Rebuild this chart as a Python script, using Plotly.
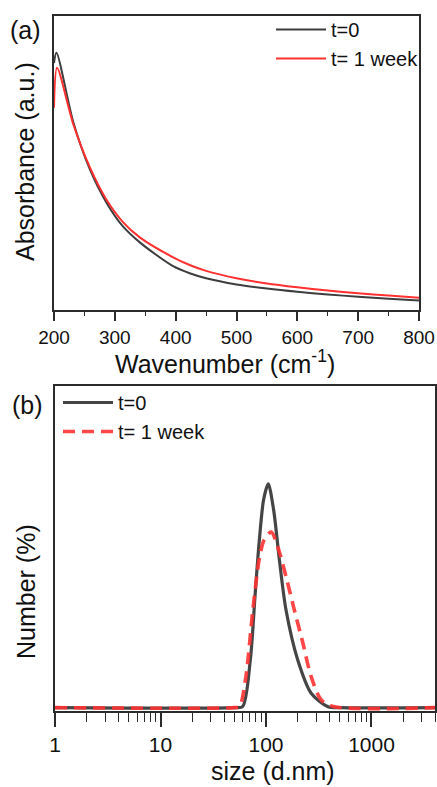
import plotly.graph_objects as go

# ---- Panel (a): absorbance ----
wn_t0 = [200, 204, 232, 259, 286, 313, 341, 395, 423, 450, 500, 550, 600, 650, 700, 750, 800]
abs_t0 = [0.84, 0.875, 0.637, 0.478, 0.366, 0.285, 0.23, 0.15, 0.125, 0.108, 0.087, 0.073,
          0.062, 0.053, 0.045, 0.038, 0.032]
wn_1w = [200, 205, 232, 259, 286, 313, 341, 395, 423, 450, 500, 550, 600, 650, 700, 750, 800]
abs_1w = [0.688, 0.824, 0.63, 0.485, 0.376, 0.30, 0.247, 0.18, 0.153, 0.133, 0.108, 0.09,
          0.077, 0.066, 0.057, 0.049, 0.042]

# ---- Panel (b): DLS number distribution ----
size_t0 = [1, 50, 60, 71, 79, 86, 95, 105, 118, 134, 155, 200, 268, 387, 518, 4000]
num_t0 = [0, 0, 0.09, 4.26, 10.2, 14.7, 18.6, 20.0, 17.7, 13.2, 8.7, 4.26, 1.29, 0.09, 0, 0]
size_1w = [1, 50, 56, 64.5, 75, 86, 96, 112, 129, 155, 186, 224, 268, 334, 444, 4000]
num_1w = [0, 0, 0.09, 2.77, 8.7, 13.2, 15.0, 15.7, 14.4, 11.7, 8.7, 5.75, 2.77, 0.69, 0.09, 0]

x_ticks_a = [200, 300, 400, 500, 600, 700, 800]
x_ticks_b = [1, 10, 100, 1000]
x_ticktext_b = ["1", "10", "100", "1000"]
x_minor_b = [2, 3, 4, 5, 6, 7, 8, 9, 20, 30, 40, 50, 60, 70, 80, 90,
             200, 300, 400, 500, 600, 700, 800, 900, 2000, 3000, 4000]

BLACK = "#3d3d3d"
RED = "#ff3030"
AX = "#2b2b2b"
FONT = "Liberation Sans, Arial, sans-serif"

fig = go.Figure()
fig.add_trace(go.Scatter(x=wn_t0, y=abs_t0, mode="lines", name="t=0",
                         line=dict(color=BLACK, width=2, shape="spline", smoothing=0.8),
                         xaxis="x", yaxis="y", legend="legend"))
fig.add_trace(go.Scatter(x=wn_1w, y=abs_1w, mode="lines", name="t= 1 week",
                         line=dict(color=RED, width=2, shape="spline", smoothing=0.8),
                         xaxis="x", yaxis="y", legend="legend"))
fig.add_trace(go.Scatter(x=size_t0, y=num_t0, mode="lines", name="t=0",
                         line=dict(color="#454545", width=3.2, shape="spline", smoothing=0.8),
                         xaxis="x2", yaxis="y2", legend="legend2"))
fig.add_trace(go.Scatter(x=size_1w, y=num_1w, mode="lines", name="t= 1 week",
                         line=dict(color="rgba(255,50,50,0.9)", width=3.6, dash="12px,7px",
                                   shape="spline", smoothing=0.8),
                         xaxis="x2", yaxis="y2", legend="legend2"))

W, H = 437, 787
def xd(a, b):
    return [a / W, b / W]
def yd(top, bottom):
    return [1 - bottom / H, 1 - top / H]

axis_common = dict(showline=True, linecolor=AX, linewidth=1.6, mirror=True,
                   showgrid=False, zeroline=False, automargin=False)

fig.update_layout(
    width=W, height=H,
    margin=dict(l=0, r=0, t=0, b=0, autoexpand=False),
    paper_bgcolor="white", plot_bgcolor="white",
    font=dict(family=FONT, color="#111"),
    xaxis=dict(domain=xd(54, 419), anchor="y", range=[200, 800],
               tickvals=x_ticks_a, ticks="outside", ticklen=9, tickwidth=1.6, tickcolor=AX,
               minor=dict(ticks="outside", ticklen=4, tickwidth=1.4, tickcolor=AX, dtick=50),
               tickfont=dict(size=19, family=FONT, color="#111"), **axis_common),
    yaxis=dict(domain=yd(16, 310), anchor="x", range=[0, 1],
               showticklabels=False, ticks="", **axis_common),
    xaxis2=dict(domain=xd(55, 435), anchor="y2", type="log", range=[0, 3.602],
                tickvals=x_ticks_b, ticktext=x_ticktext_b,
                ticks="outside", ticklen=14, tickwidth=1.6, tickcolor=AX,
                minor=dict(ticks="outside", ticklen=9, tickwidth=1.4, tickcolor=AX,
                           tickvals=x_minor_b),
                tickfont=dict(size=21, family=FONT, color="#111"), **axis_common),
    yaxis2=dict(domain=yd(386, 711), anchor="x2", range=[-0.3, 28.75],
                showticklabels=False, ticks="", **axis_common),
    legend=dict(x=271 / W, y=1 - 10 / H, xanchor="left", yanchor="top",
                bgcolor="rgba(0,0,0,0)", itemwidth=50,
                font=dict(size=20, family=FONT, color="#111"), tracegroupgap=0),
    legend2=dict(x=58 / W, y=1 - 383 / H, xanchor="left", yanchor="top",
                 bgcolor="rgba(0,0,0,0)", itemwidth=50,
                 font=dict(size=20, family=FONT, color="#111"), tracegroupgap=0),
    showlegend=True,
)

ann = [
    dict(text="(a)", x=25 / W, y=1 - 30 / H, font=dict(size=25)),
    dict(text="(b)", x=27 / W, y=1 - 405 / H, font=dict(size=25)),
    dict(text="Wavenumber (cm<sup>-1</sup>)", x=225 / W, y=1 - 362 / H, font=dict(size=25)),
    dict(text="size (d.nm)", x=273 / W, y=1 - 771 / H, font=dict(size=25)),
    dict(text="Absorbance (a.u.)", x=25 / W, y=1 - 162 / H, font=dict(size=25), textangle=-90),
    dict(text="Number (%)", x=26 / W, y=1 - 592 / H, font=dict(size=25), textangle=-90),
]
for a in ann:
    a.update(xref="paper", yref="paper", showarrow=False, xanchor="center", yanchor="middle")
    a["font"] = dict(family=FONT, color="#111", **a["font"])
fig.update_layout(annotations=ann)

fig.write_html("out.html")
